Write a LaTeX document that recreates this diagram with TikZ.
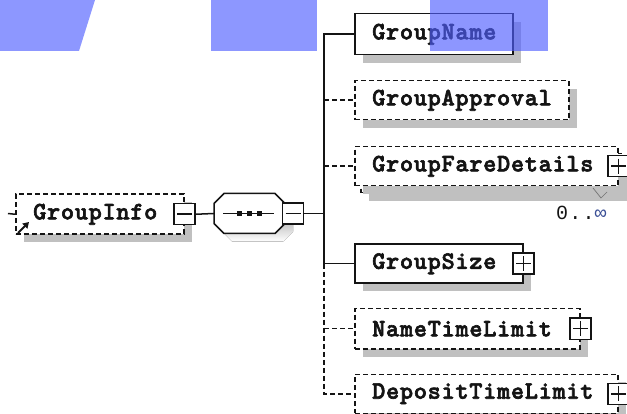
\documentclass[tikz,border=0pt]{standalone}
\usepackage{fontspec}
\usetikzlibrary{shadows,arrows.meta}
\newfontfamily\elfont[LetterSpace=3,FakeBold=2.5]{lmmonolt10-bold.otf}
\newfontfamily\occfont[LetterSpace=6]{Liberation Mono}
\definecolor{ink}{RGB}{20,20,20}
\definecolor{shade}{RGB}{192,192,192}
\definecolor{ovblue}{RGB}{80,95,255}
\definecolor{infcol}{RGB}{60,80,150}
\begin{document}
\begin{tikzpicture}[x=1pt,y=-1pt,
  ln/.style={draw=ink,line width=1.5pt},
  dsh/.style={dash pattern=on 5pt off 3pt},
  shd/.style={drop shadow={shadow xshift=8pt,shadow yshift=-8pt,fill=shade,opacity=1}},
  elem/.style={ln,fill=white,shd,minimum height=40pt,inner sep=0pt,anchor=north west},
  lbl/.style={anchor=west,inner sep=0pt,font=\elfont\fontsize{25}{25}\selectfont,text=ink},
  pbox/.style={ln,solid,fill=white,minimum size=21pt,inner sep=0pt},
  plusbox/.style={pbox,path picture={\draw[ink,line width=1.5pt]
     ([xshift=3pt]path picture bounding box.west) -- ([xshift=-3pt]path picture bounding box.east)
     ([yshift=-3pt]path picture bounding box.north) -- ([yshift=3pt]path picture bounding box.south);}},
  minusbox/.style={pbox,path picture={\draw[ink,line width=1.5pt]
     ([xshift=3pt]path picture bounding box.west) -- ([xshift=-3pt]path picture bounding box.east);}},
]
\useasboundingbox (0,0) rectangle (627,414);

% ---- root element ----
\node[elem,dsh,minimum width=168pt] (gi) at (15,193.5) {};
\node[lbl] (gilbl) at ([xshift=18pt]gi.west) {GroupInfo};
\node[minusbox] (gim) at (gi.east) {};
\coordinate (stub) at (8,213.5);
\draw[ln] (stub) -- (gi.west);
\draw[ink,line width=1.8pt,-{Triangle[length=6pt,width=7pt]}] (18,233) -- (29,222);

% ---- sequence compositor ----
\node[inner sep=0pt,minimum width=71pt,minimum height=40pt] (seq) at (249.5,213.5) {};
\fill[shade] (222,211.5) -- (232,201.5) -- (283,201.5) -- (293,211.5) -- (293,231.5) -- (283,241.5) -- (232,241.5) -- (222,231.5) -- cycle;
\draw[ln,fill=white] (214,203.5) -- (224,193.5) -- (275,193.5) -- (285,203.5) -- (285,223.5) -- (275,233.5) -- (224,233.5) -- (214,223.5) -- cycle;
\draw[ln] (223,213.5) -- (274,213.5);
\foreach \xx in {239,249,259} \fill[ink] (\xx-2.5,211) rectangle (\xx+2.5,216);
\node[minusbox] (seqm) at (293,213.5) {};
\draw[ln] (gim.east) -- (seq.west);
\coordinate (tr) at (324,213.5);

% ---- children ----
\node[elem,minimum width=158pt,minimum height=41pt] (gname) at (354,13) {};
\node[lbl] at ([xshift=18pt]gname.west) {GroupName};

\node[elem,dsh,minimum width=214pt,minimum height=39pt] (gapp) at (354,80) {};
\node[lbl] at ([xshift=18pt]gapp.west) {GroupApproval};

\node[elem,dsh,minimum width=263pt,minimum height=39pt] (gfdback) at (360,153) {};
\node[elem,dsh,minimum width=263pt,minimum height=39pt,drop shadow={opacity=0}] (gfd) at (354,146) {};
\node[lbl] at ([xshift=18pt]gfd.west) {GroupFareDetails};
\node[plusbox] (gfdp) at (gfd.east) {};
\draw[shade!60!black,line width=0.7pt] (593,188) -- (601,198) -- (607,192);
\node[anchor=west,inner sep=0pt,font=\occfont\fontsize{20}{20}\selectfont,text=ink] (occ) at (556,213) {0..\textcolor{infcol}{∞}};

\node[elem,minimum width=168pt,minimum height=39pt] (gsize) at (354,243.5) {};
\node[lbl] at ([xshift=18pt]gsize.west) {GroupSize};
\node[plusbox] (gsizep) at (gsize.east) {};

\node[elem,dsh,minimum width=225pt,minimum height=40pt] (ntl) at (354,308) {};
\node[lbl] at ([xshift=18pt]ntl.west) {NameTimeLimit};
\node[plusbox] (ntlp) at (ntl.east) {};

\node[elem,dsh,minimum width=263pt,minimum height=39pt] (dtl) at (354,373.5) {};
\node[lbl] at ([xshift=18pt]dtl.west) {DepositTimeLimit};
\node[plusbox] (dtlp) at (dtl.east) {};

% ---- connectors ----
\draw[ln] (seqm.east) -- (tr);
\draw[ln] (gname.west) -- (gname.west -| tr) -- (gsize.west -| tr) -- (gsize.west);
\draw[ln,dsh] (gsize.west -| tr) |- (dtl.west);
\draw[ln,dsh] (gapp.west -| tr) -- (gapp.west);
\draw[ln,dsh] (gfd.west -| tr) -- (gfd.west);
\draw[ln,dsh] (ntl.west -| tr) -- (ntl.west);

% ---- translucent blue overlays ----
\fill[ovblue,opacity=0.65] (0,0) -- (95,0) -- (79,51) -- (0,51) -- cycle;
\fill[ovblue,opacity=0.65] (211,0) rectangle (317,51);
\fill[ovblue,opacity=0.65] (430,0) rectangle (548,51);
\end{tikzpicture}
\end{document}
